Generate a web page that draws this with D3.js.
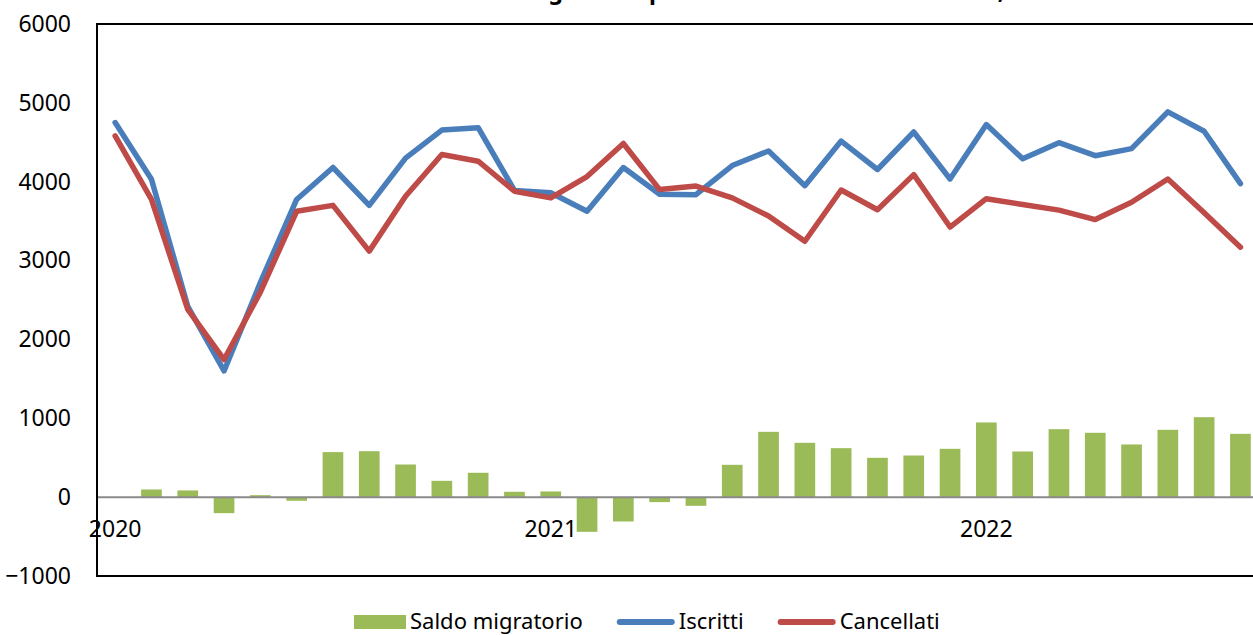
<!DOCTYPE html>
<html>
<head>
<meta charset="utf-8">
<script src="https://cdn.jsdelivr.net/npm/d3@7/dist/d3.min.js"></script>
<style>
  html, body { margin: 0; padding: 0; background: #fff; }
  svg { display: block; font-family: "Noto Sans", "Open Sans", sans-serif; }
</style>
</head>
<body>
<svg id="chart" width="1253" height="635"></svg>
<script>
(function () {
  'use strict';

  // monthly data, Jan 2020 - Aug 2022
  var months = [
    '2020-01', '2020-02', '2020-03', '2020-04', '2020-05', '2020-06', '2020-07', '2020-08',
    '2020-09', '2020-10', '2020-11', '2020-12', '2021-01', '2021-02', '2021-03', '2021-04',
    '2021-05', '2021-06', '2021-07', '2021-08', '2021-09', '2021-10', '2021-11', '2021-12',
    '2022-01', '2022-02', '2022-03', '2022-04', '2022-05', '2022-06', '2022-07', '2022-08'
  ];
  var iscritti = [
    4750, 4030, 2420, 1600, 2720, 3775, 4180, 3700, 4300, 4655, 4685, 3890,
    3860, 3625, 4180, 3840, 3835, 4205, 4390, 3950, 4515, 4155, 4630, 4035,
    4725, 4290, 4495, 4330, 4420, 4885, 4640, 3975
  ];
  var cancellati = [
    4580, 3775, 2380, 1745, 2600, 3625, 3700, 3120, 3815, 4345, 4260, 3880,
    3795, 4065, 4485, 3900, 3945, 3795, 3565, 3245, 3895, 3645, 4090, 3425,
    3785, 3710, 3640, 3520, 3740, 4035, 3605, 3170
  ];
  var saldo = [
    0, 97, 85, -203, 25, -46, 571, 583, 414, 207, 309, 68,
    72, -440, -309, -63, -110, 410, 828, 689, 621, 499, 528, 613,
    947, 579, 862, 816, 668, 854, 1014, 803
  ];
  var yTicks = [-1000, 0, 1000, 2000, 3000, 4000, 5000, 6000];
  var yearTicks = ['2020-01', '2021-01', '2022-01'];
  var legendItems = ['Saldo migratorio', 'Iscritti', 'Cancellati'];
  var titleText = 'Iscrizioni e cancellazioni anagrafiche per trasferimento di residenza, 2020-2022';

  var GREEN = '#9BBB59';
  var BLUE = '#4A7EBB';
  var RED = '#BE4B48';

  var left = 97, top = 24, bottom = 576;
  var step = 36.3;
  var right = left + months.length * step;

  var svg = d3.select('#chart');

  var x = d3.scaleBand().domain(months).range([left, right]).padding(0);
  var xBar = d3.scaleBand().domain(months).range([left, right]).paddingInner(0.43).paddingOuter(0.215);
  var y = d3.scaleLinear().domain([-1000, 6000]).range([bottom, top]);

  function cx(m) { return x(m) + x.bandwidth() / 2; }

  // title: the page only shows its descenders at the very top
  var title = svg.append('text')
    .attr('x', 0)
    .attr('y', -1)
    .attr('font-size', 20)
    .attr('font-weight', 'bold')
    .attr('fill', '#000')
    .text(titleText);
  var tn = title.node();
  var gi = titleText.indexOf('agrafiche') + 2;
  var ci = titleText.indexOf(',');
  var dist = tn.getStartPositionOfChar(ci).x - tn.getStartPositionOfChar(gi).x;
  var fs = 20 * (998 - 563) / dist;
  title.attr('font-size', fs);
  title.attr('x', 563 - tn.getStartPositionOfChar(gi).x);

  // bars
  svg.append('g').selectAll('rect')
    .data(months)
    .enter()
    .append('rect')
    .attr('x', function (m) { return xBar(m); })
    .attr('width', xBar.bandwidth())
    .attr('y', function (m, i) { return y(Math.max(0, saldo[i])); })
    .attr('height', function (m, i) { return Math.abs(y(saldo[i]) - y(0)); })
    .attr('fill', GREEN);

  // zero line
  svg.append('line')
    .attr('x1', left).attr('x2', 1253)
    .attr('y1', y(0)).attr('y2', y(0))
    .attr('stroke', '#8a8a8a')
    .attr('stroke-width', 2);

  // lines
  var line = d3.line()
    .x(function (d) { return cx(d.m); })
    .y(function (d) { return y(d.v); });

  [[iscritti, BLUE], [cancellati, RED]].forEach(function (s) {
    var pts = months.map(function (m, i) { return { m: m, v: s[0][i] }; });
    svg.append('path')
      .datum(pts)
      .attr('d', line)
      .attr('fill', 'none')
      .attr('stroke', s[1])
      .attr('stroke-width', 5.5)
      .attr('stroke-linejoin', 'round')
      .attr('stroke-linecap', 'round');
  });

  // frame
  svg.append('path')
    .attr('d', 'M1253,' + top + 'H' + left + 'V' + bottom + 'H1253')
    .attr('fill', 'none')
    .attr('stroke', '#000')
    .attr('stroke-width', 2);

  // y axis
  var yAxis = svg.append('g')
    .attr('transform', 'translate(' + left + ',0)')
    .call(d3.axisLeft(y).tickValues(yTicks).tickSize(0).tickPadding(26).tickFormat(d3.format('d')));
  yAxis.select('.domain').remove();
  yAxis.selectAll('text').attr('font-size', 23).attr('fill', '#000').attr('font-family', '"Noto Sans", sans-serif');

  // x axis (year labels)
  var xAxis = svg.append('g')
    .attr('transform', 'translate(0,' + y(0) + ')')
    .call(d3.axisBottom(x).tickValues(yearTicks).tickSize(0).tickPadding(24)
      .tickFormat(function (m) { return m.slice(0, 4); }));
  xAxis.select('.domain').remove();
  xAxis.selectAll('text').attr('font-size', 23).attr('fill', '#000').attr('font-family', '"Noto Sans", sans-serif');

  // legend
  var legend = svg.append('g').attr('transform', 'translate(354,622)');
  var colors = [GREEN, BLUE, RED];
  var lx = 0;
  legendItems.forEach(function (name, i) {
    var g = legend.append('g').attr('transform', 'translate(' + lx + ',0)');
    var mw;
    if (i === 0) {
      mw = 52;
      g.append('rect').attr('x', 0).attr('y', -7).attr('width', mw).attr('height', 14).attr('fill', colors[i]);
    } else {
      mw = 58;
      g.append('line').attr('x1', 3).attr('x2', mw - 3).attr('y1', 0).attr('y2', 0)
        .attr('stroke', colors[i]).attr('stroke-width', 6).attr('stroke-linecap', 'round');
    }
    var t = g.append('text')
      .attr('x', mw + 4)
      .attr('y', 7)
      .attr('font-size', 22)
      .attr('fill', '#000')
      .text(name);
    lx += mw + 4 + t.node().getComputedTextLength() + 34;
  });
})();
</script>
</body>
</html>
